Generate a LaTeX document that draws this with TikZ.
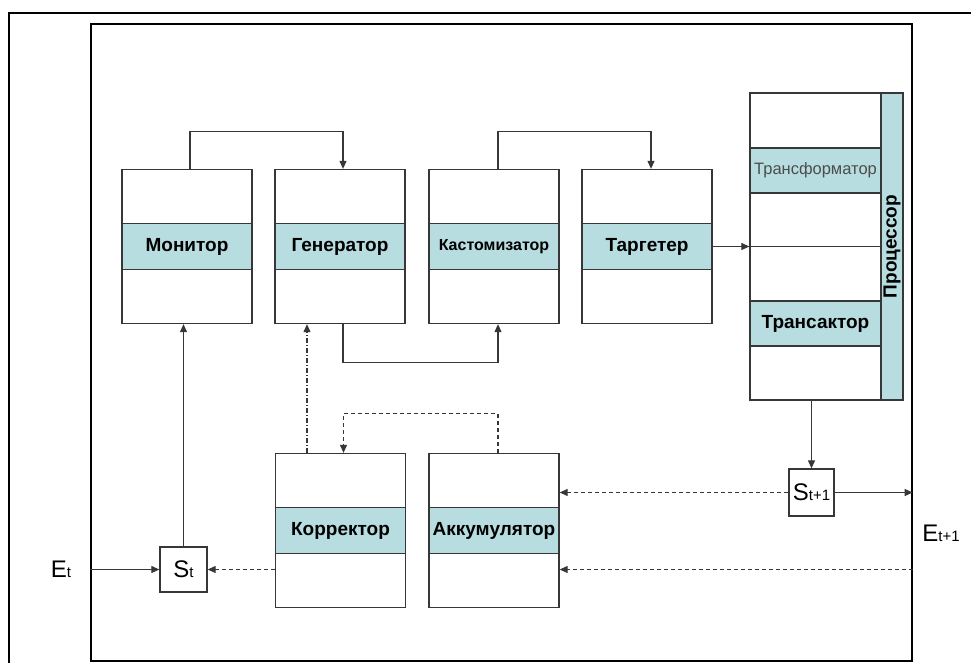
\documentclass[tikz,border=0pt]{standalone}
\usepackage{fontspec}
\setmainfont{Liberation Sans}
\usepackage{xcolor}
\usetikzlibrary{arrows.meta}
\definecolor{bandblue}{RGB}{183,221,224}
\definecolor{edgegray}{RGB}{55,55,55}
\newcommand{\statelbl}[2]{{\fontsize{24}{24}\selectfont #1}{\fontsize{15}{15}\selectfont #2}}

\begin{document}
\begin{tikzpicture}[x=1pt,y=-1pt,>={Triangle[length=8pt,width=7pt]},
  blk/.style={draw=edgegray,line width=1.3pt,minimum width=130pt,minimum height=154pt,inner sep=0pt},
  band/.style={draw=edgegray,line width=1.3pt,fill=bandblue,minimum width=130pt,minimum height=46pt,inner sep=0pt,font=\bfseries\fontsize{19}{19}\selectfont},
  sbox/.style={draw=edgegray,line width=1.3pt,minimum width=46pt,minimum height=46pt,inner sep=0pt},
  conn/.style={draw=edgegray,line width=1.1pt},
  dsh/.style={dash pattern=on 4pt off 3pt},
  dshdot/.style={dash pattern=on 5pt off 2pt on 1pt off 2pt}]
  \useasboundingbox (0,0) rectangle (971,663);
  \draw [line width=2.2pt] (9,663) -- (9,13) -- (971,13);
  \node [draw,line width=1.3pt,minimum width=821pt,minimum height=637pt,inner sep=0pt] (frame) at (501.5,342.5) {};

  \node [blk] (mon) at (187,246.5) {};
  \node [band] (monL) at (mon) {Монитор};
  \node [blk] (gen) at (340,246.5) {};
  \node [band] (genL) at (gen) {Генератор};
  \node [blk] (kas) at (494,246.5) {};
  \node [band,font=\bfseries\fontsize{16}{16}\selectfont] (kasL) at (kas) {Кастомизатор};
  \node [blk] (tar) at (647,246.5) {};
  \node [band] (tarL) at (tar) {Таргетер};

  \node [blk,minimum width=131pt,minimum height=307pt] (proc) at (815.5,246.5) {};
  \node [band,minimum width=131pt,minimum height=45pt,font=\fontsize{16.5}{16.5}\selectfont,text=black!70] (trf) at (815.5,170.5) {Трансформатор};
  \node [band,minimum width=131pt,minimum height=45pt] (trs) at (815.5,323.5) {Трансактор};
  \draw [conn] (proc.west) -- (proc.east);
  \node [band,rotate=90,minimum width=307pt,minimum height=22pt] (procbar) at (892,246.5) {Процессор};

  \node [blk] (kor) at (340.5,530.5) {};
  \node [band] (korL) at (kor) {Корректор};
  \node [blk] (akk) at (494,530.5) {};
  \node [band] (akkL) at (akk) {Аккумулятор};

  \node [sbox,minimum width=47pt,minimum height=45pt] (st) at (183.5,569.5) {\statelbl{S}{t}};
  \node [sbox,minimum width=45pt,minimum height=47pt] (st1) at (811.5,492.5) {\statelbl{S}{t+1}};
  \node (et) at (61,569.5) {\statelbl{E}{t}};
  \node (et1) at (941,533) {\statelbl{E}{t+1}};

  \draw [conn,->] ([xshift=3pt]mon.north) -- ++(0,-37.5) -| ([xshift=3pt]gen.north);
  \draw [conn,->] ([xshift=4pt]kas.north) -- ++(0,-37.5) -| ([xshift=4pt]tar.north);
  \draw [conn,->] ([xshift=3pt]gen.south) -- ++(0,38.5) -| ([xshift=4pt]kas.south);
  \draw [conn,->] (tar.east) -- (proc.west);
  \draw [conn,->] (proc.south -| st1) -- (st1.north);
  \draw [conn,->] (st1.east) -- (frame.east |- st1);
  \draw [conn,dsh,->] (st1.west) -- (st1.west -| akk.east);
  \draw [conn,dsh,->] (frame.east |- st) -- (st -| akk.east);
  \draw [conn,dsh,->] ([xshift=4pt]akk.north) -- ++(0,-39) -| ([xshift=3pt]kor.north);
  \draw [conn,dshdot,->] ([xshift=-33.5pt]kor.north) -- ([xshift=-33pt]gen.south);
  \draw [conn,dsh,->] (st.east -| kor.west) -- (st.east);
  \draw [conn,->] (frame.west |- st) -- (st.west);
  \draw [conn,->] (st.north) -- (st.north |- mon.south);
\end{tikzpicture}
\end{document}
